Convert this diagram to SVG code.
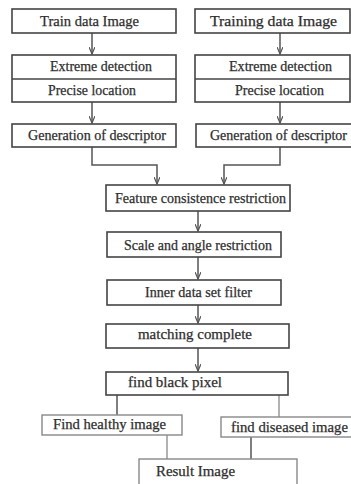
<svg xmlns="http://www.w3.org/2000/svg" width="351" height="484" viewBox="0 0 351 484">
<defs>
<style>
.box{fill:#fff;stroke:#444;stroke-width:1.6}
.lbox{fill:#fff;stroke:#888;stroke-width:1.4}
.t{font-family:"Liberation Serif","Times New Roman",serif;font-size:14.5px;fill:#2e2e2e;stroke:#2e2e2e;stroke-width:0.25}
.c{fill:none;stroke:#555;stroke-width:1.5}
.lc{fill:none;stroke:#999;stroke-width:1.5}
</style>
<marker id="ah" markerWidth="8" markerHeight="6" refX="7" refY="3" orient="auto" markerUnits="userSpaceOnUse">
<path d="M0,0 L7,3 L0,6" fill="none" stroke="#555" stroke-width="1.2"/>
</marker>
</defs>
<rect width="351" height="484" fill="#fff"/>
<g id="connectors">
<line class="c" x1="92" y1="33" x2="92" y2="54" marker-end="url(#ah)"/>
<line class="c" x1="280" y1="33" x2="280" y2="54" marker-end="url(#ah)"/>
<line class="c" x1="92" y1="102" x2="92" y2="123" marker-end="url(#ah)"/>
<line class="c" x1="280" y1="102" x2="280" y2="123" marker-end="url(#ah)"/>
<polyline class="c" points="92,147 92,165 157,165 157,184" marker-end="url(#ah)"/>
<polyline class="c" points="280,147 280,165 224,165 224,184" marker-end="url(#ah)"/>
<line class="c" x1="198" y1="211" x2="198" y2="231" marker-end="url(#ah)"/>
<line class="c" x1="198" y1="257" x2="198" y2="279" marker-end="url(#ah)"/>
<line class="c" x1="198" y1="305" x2="198" y2="323" marker-end="url(#ah)"/>
<line class="c" x1="198" y1="348" x2="198" y2="371" marker-end="url(#ah)"/>
<line class="c" x1="117" y1="395" x2="117" y2="415"/>
<line class="lc" x1="279" y1="395" x2="279" y2="417"/>
<line class="lc" x1="167" y1="435" x2="167" y2="459"/>
<line class="c" x1="251" y1="437" x2="251" y2="459"/>
</g>
<g id="train">
<rect class="box" x="12" y="9" width="164" height="24"/>
<text class="t" x="40" y="26" textLength="99" lengthAdjust="spacingAndGlyphs">Train data Image</text>
</g>
<g id="training">
<rect class="box" x="195" y="9" width="155" height="24"/>
<text class="t" x="210" y="26" textLength="127" lengthAdjust="spacingAndGlyphs">Training data Image</text>
</g>
<g id="extreme-left">
<rect class="box" x="12" y="55" width="164" height="47"/>
<line class="box" x1="12" y1="79" x2="176" y2="79"/>
<text class="t" x="50" y="71" textLength="102" lengthAdjust="spacingAndGlyphs">Extreme detection</text>
<text class="t" x="48" y="95" textLength="88" lengthAdjust="spacingAndGlyphs">Precise location</text>
</g>
<g id="extreme-right">
<rect class="box" x="195" y="55" width="155" height="47"/>
<line class="box" x1="195" y1="79" x2="350" y2="79"/>
<text class="t" x="229" y="71" textLength="103" lengthAdjust="spacingAndGlyphs">Extreme detection</text>
<text class="t" x="235" y="95" textLength="89" lengthAdjust="spacingAndGlyphs">Precise location</text>
</g>
<g id="gen-left">
<rect class="box" x="12" y="124" width="164" height="23"/>
<text class="t" x="28" y="140" textLength="138" lengthAdjust="spacingAndGlyphs">Generation of descriptor</text>
</g>
<g id="gen-right">
<rect class="box" x="196" y="124" width="157" height="23"/>
<text class="t" x="210" y="140" textLength="137" lengthAdjust="spacingAndGlyphs">Generation of descriptor</text>
</g>
<g id="feature">
<rect class="box" x="106" y="185" width="184" height="26"/>
<text class="t" x="115" y="203" textLength="171" lengthAdjust="spacingAndGlyphs">Feature consistence restriction</text>
</g>
<g id="scale">
<rect class="box" x="107" y="232" width="174" height="25"/>
<text class="t" x="124" y="250" textLength="148" lengthAdjust="spacingAndGlyphs">Scale and angle restriction</text>
</g>
<g id="inner">
<rect class="box" x="107" y="280" width="174" height="25"/>
<text class="t" x="145" y="297" textLength="107" lengthAdjust="spacingAndGlyphs">Inner data set filter</text>
</g>
<g id="matching">
<rect class="box" x="106" y="324" width="183" height="24"/>
<text class="t" x="138" y="339" textLength="114" lengthAdjust="spacingAndGlyphs">matching complete</text>
</g>
<g id="black">
<rect class="box" x="106" y="372" width="182" height="23"/>
<text class="t" x="128" y="387" textLength="94" lengthAdjust="spacingAndGlyphs">find black pixel</text>
</g>
<g id="healthy">
<rect class="lbox" x="42" y="415" width="140" height="20"/>
<text class="t" x="53" y="429" textLength="113" lengthAdjust="spacingAndGlyphs">Find healthy image</text>
</g>
<g id="diseased">
<rect class="lbox" x="221" y="417" width="131" height="20"/>
<text class="t" x="231" y="432" textLength="117" lengthAdjust="spacingAndGlyphs">find diseased image</text>
</g>
<g id="result">
<rect class="lbox" x="139" y="459" width="158" height="40"/>
<text class="t" x="156" y="476" textLength="79" lengthAdjust="spacingAndGlyphs">Result Image</text>
</g>
</svg>
